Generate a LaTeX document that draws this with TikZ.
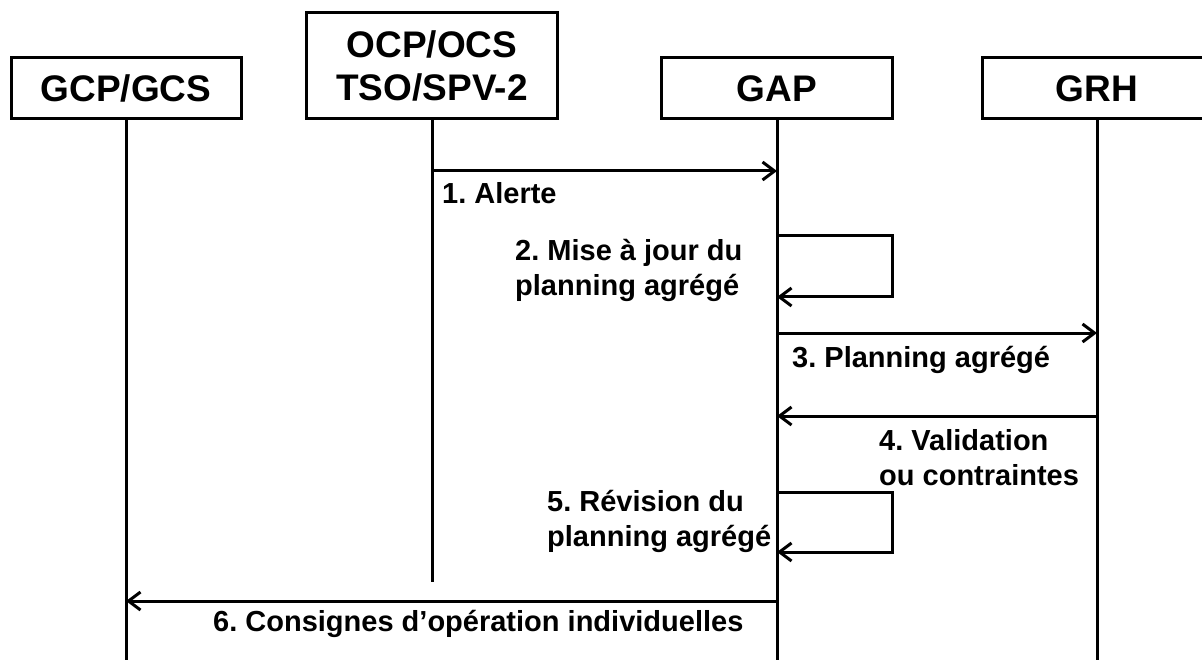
\documentclass[tikz,border=0pt]{standalone}
\usepackage{fontspec}
\setmainfont{Liberation Sans}
\usetikzlibrary{arrows.meta}
\frenchspacing
\begin{document}
\begin{tikzpicture}[x=1pt,y=-1pt,
  actor/.style={draw,line width=3pt,inner sep=0pt,align=center,
    font=\fontsize{37}{43}\selectfont\bfseries},
  life/.style={line width=3pt},
  msg/.style={line width=3pt,-{Straight Barb[length=12pt,width=18pt,line width=3pt]}},
  lbl/.style={inner sep=0pt,anchor=west,align=left,
    font=\fontsize{29}{35}\selectfont\bfseries}]
\useasboundingbox (0,0) rectangle (1202,660);
\begin{scope}
\clip (0,0) rectangle (1202,660);
% actors
\node[actor,minimum width=230pt,minimum height=61pt] (gcp) at (126,88.5) {GCP/GCS};
\node[actor,minimum width=251pt,minimum height=106pt] (ocp) at (432,66) {OCP/OCS\\TSO/SPV-2};
\node[actor,minimum width=231pt,minimum height=61pt] (gap) at (777,88.5) {GAP};
\node[actor,minimum width=230pt,minimum height=61pt] (grh) at (1097,88.5) {GRH};
% lifeline ends
\coordinate (gcpE) at (126,662);
\coordinate (ocpE) at (432,582);
\coordinate (gapE) at (777,662);
\coordinate (grhE) at (1097,662);
\draw[life] (gcp.south) -- (gcpE);
\draw[life] (ocp.south) -- (ocpE);
\draw[life] (gap.south) -- (gapE);
\draw[life] (grh.south) -- (grhE);
% message points
\coordinate (m1a) at (432,171);
\coordinate (m1b) at (777,171);
\coordinate (s2a) at (777,236);
\coordinate (s2b) at (892,236);
\coordinate (s2c) at (892,297);
\coordinate (s2d) at (777,297);
\coordinate (m3a) at (777,333);
\coordinate (m3b) at (1097,333);
\coordinate (m4a) at (1097,416);
\coordinate (m4b) at (777,416);
\coordinate (s5a) at (777,492);
\coordinate (s5b) at (892,492);
\coordinate (s5c) at (892,552);
\coordinate (s5d) at (777,552);
\coordinate (m6a) at (777,601);
\coordinate (m6b) at (126,601);
\draw[msg] (m1a) -- (m1b);
\draw[msg] (s2a) -- (s2b) -- (s2c) -- (s2d);
\draw[msg] (m3a) -- (m3b);
\draw[msg] (m4a) -- (m4b);
\draw[msg] (s5a) -- (s5b) -- (s5c) -- (s5d);
\draw[msg] (m6a) -- (m6b);
% labels
\node[lbl] (l1) at (442,193) {1. Alerte};
\node[lbl] (l2) at (515,270) {2. Mise à jour du\\planning agrégé};
\node[lbl] (l3) at (792,360) {3. Planning agrégé};
\node[lbl] (l4) at (879,458) {4. Validation\\ou contraintes};
\node[lbl] (l5) at (547,521) {5. Révision du\\planning agrégé};
\node[lbl] (l6) at (213,624) {6. Consignes d’opération individuelles};
\end{scope}
\end{tikzpicture}
\end{document}
